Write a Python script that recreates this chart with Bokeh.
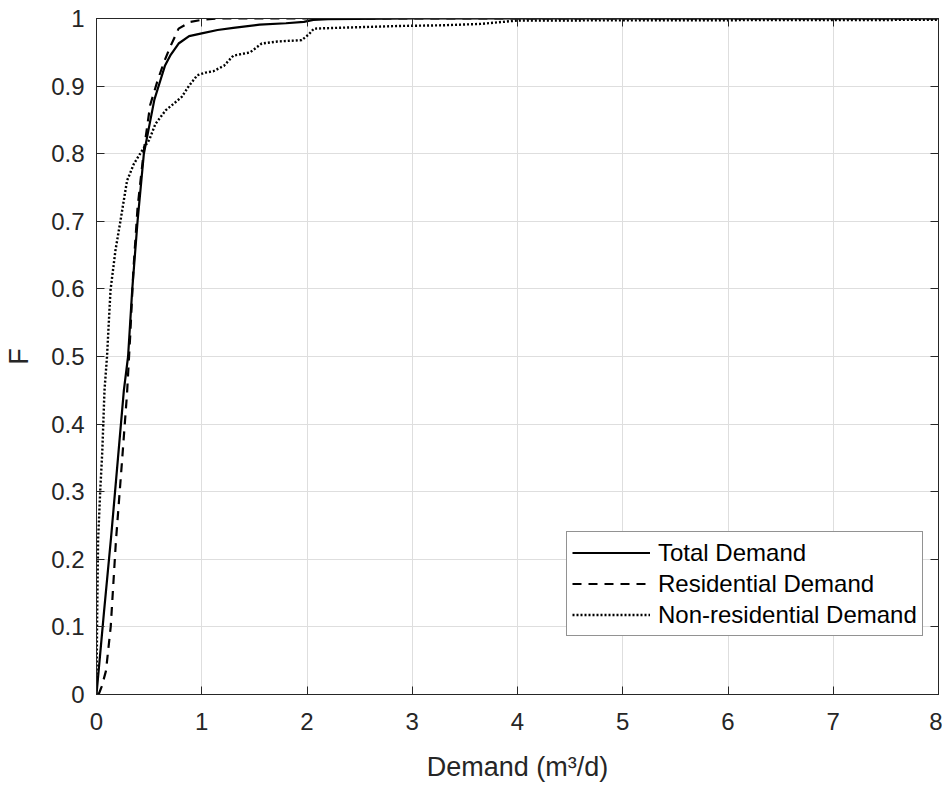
from bokeh.plotting import figure
from bokeh.models import Range1d, LinearAxis, Legend, LegendItem, CustomJSTickFormatter, FixedTicker
from bokeh.embed import file_html
from bokeh.resources import INLINE

# ---- data ----
total_x = [0, 0.07, 0.14, 0.26, 0.30, 0.34, 0.39, 0.45, 0.50, 0.55, 0.60, 0.65, 0.70, 0.78, 0.88,
           1.0, 1.15, 1.30, 1.55, 1.80, 1.97, 2.06, 2.2, 3.0, 8.0]
total_f = [0, 0.12, 0.235, 0.45, 0.50, 0.60, 0.70, 0.80, 0.84, 0.88, 0.905, 0.93, 0.945, 0.963, 0.974,
           0.978, 0.983, 0.986, 0.991, 0.993, 0.995, 0.998, 0.999, 1.0, 1.0]

res_x = [0.02, 0.05, 0.09, 0.135, 0.185, 0.24, 0.29, 0.32, 0.35, 0.39, 0.45, 0.51, 0.58, 0.64, 0.70,
         0.78, 0.89, 1.0, 1.15, 8.0]
res_f = [0, 0.012, 0.035, 0.10, 0.228, 0.34, 0.445, 0.53, 0.627, 0.72, 0.805, 0.872, 0.908, 0.935, 0.958,
         0.985, 0.995, 0.998, 1.0, 1.0]

nonres_x = [0, 0.005, 0.015, 0.035, 0.055, 0.076, 0.10, 0.133, 0.18, 0.228, 0.29, 0.355, 0.434, 0.50,
            0.56, 0.656, 0.734, 0.81, 0.877, 0.957, 1.036, 1.11, 1.21, 1.30, 1.46, 1.57, 1.72, 1.95,
            2.02, 2.065, 2.25, 2.89, 3.3, 3.65, 4.0, 8.0]
nonres_f = [0, 0.10, 0.228, 0.30, 0.36, 0.45, 0.50, 0.598, 0.657, 0.701, 0.76, 0.785, 0.805, 0.82,
            0.844, 0.864, 0.874, 0.884, 0.90, 0.916, 0.92, 0.922, 0.93, 0.945, 0.95, 0.963, 0.966, 0.968,
            0.977, 0.985, 0.986, 0.989, 0.99, 0.992, 0.997, 0.998]

x_ticks = [0, 1, 2, 3, 4, 5, 6, 7, 8]
y_ticks = [0, 0.1, 0.2, 0.3, 0.4, 0.5, 0.6, 0.7, 0.8, 0.9, 1]
y_tick_labels = {0: "0", 0.1: "0.1", 0.2: "0.2", 0.3: "0.3", 0.4: "0.4", 0.5: "0.5",
                 0.6: "0.6", 0.7: "0.7", 0.8: "0.8", 0.9: "0.9", 1: "1"}

series_labels = ["Total Demand", "Residential Demand", "Non-residential Demand"]

AX = "#262626"
FONT = "Liberation Sans"

p = figure(width=942, height=789, x_range=Range1d(0, 8), y_range=Range1d(0, 1),
           output_backend="svg", toolbar_location=None,
           min_border_left=96, min_border_right=4, min_border_top=18, min_border_bottom=95,
           x_axis_label="Demand (m³/d)", y_axis_label="F")

p.background_fill_color = "white"
p.border_fill_color = "white"
p.outline_line_color = AX
p.outline_line_width = 1

for ax in (p.xaxis[0], p.yaxis[0]):
    ax.axis_line_color = AX
    ax.major_tick_line_color = AX
    ax.major_tick_in = 8
    ax.major_tick_out = 0
    ax.minor_tick_line_color = None
    ax.major_label_text_font = FONT
    ax.major_label_text_font_size = "24px"
    ax.major_label_text_color = AX
    ax.axis_label_text_font = FONT
    ax.axis_label_text_font_size = "27px"
    ax.axis_label_text_font_style = "normal"
    ax.axis_label_text_color = AX

p.xaxis[0].ticker = FixedTicker(ticks=x_ticks)
p.yaxis[0].ticker = FixedTicker(ticks=y_ticks)
p.yaxis[0].major_label_overrides = y_tick_labels
p.xaxis[0].major_label_standoff = 18
p.yaxis[0].major_label_standoff = 12
p.xaxis[0].axis_label_standoff = 19
p.yaxis[0].axis_label_standoff = 14

blank = CustomJSTickFormatter(code="return '';")
top = LinearAxis(ticker=FixedTicker(ticks=x_ticks), formatter=blank)
right = LinearAxis(ticker=FixedTicker(ticks=y_ticks), formatter=blank)
for ax in (top, right):
    ax.axis_line_color = AX
    ax.major_tick_line_color = AX
    ax.major_tick_in = 8
    ax.major_tick_out = 0
    ax.minor_tick_line_color = None
    ax.major_label_standoff = 0
    ax.major_label_text_font_size = "1px"
p.add_layout(top, "above")
p.add_layout(right, "right")

p.xgrid.ticker = FixedTicker(ticks=x_ticks)
p.ygrid.ticker = FixedTicker(ticks=y_ticks)
p.grid.grid_line_color = "#dedede"
p.grid.grid_line_width = 1

r1 = p.line(total_x, total_f, line_color="black", line_width=2.2)
r2 = p.line(res_x, res_f, line_color="black", line_width=2.2, line_dash="9 7")
r3 = p.line(nonres_x, nonres_f, line_color="black", line_width=2.4, line_dash="2 2")

legend = Legend(items=[LegendItem(label=series_labels[0], renderers=[r1]),
                       LegendItem(label=series_labels[1], renderers=[r2]),
                       LegendItem(label=series_labels[2], renderers=[r3])],
                location=(470, 58))
legend.label_text_font = FONT
legend.label_text_font_size = "24px"
legend.label_text_color = "black"
legend.border_line_color = AX
legend.border_line_width = 1
legend.background_fill_color = "white"
legend.background_fill_alpha = 1
legend.padding = 5
legend.margin = 0
legend.spacing = 0
legend.label_height = 31
legend.glyph_height = 31
legend.glyph_width = 78
legend.label_standoff = 8
p.add_layout(legend)

open("out.html", "w").write(file_html(p, INLINE))
